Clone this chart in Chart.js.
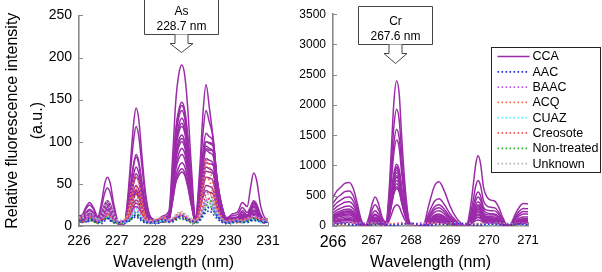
<!DOCTYPE html>
<html>
<head>
<meta charset="utf-8">
<script src="https://cdn.jsdelivr.net/npm/chart.js@4.4.1/dist/chart.umd.min.js"></script>
<style>
  html, body { margin: 0; padding: 0; background: #fff; }
  #wrap { position: relative; width: 602px; height: 272px; overflow: hidden; }
  #asChart { position: absolute; left: 0; top: 0; }
  #crChart { position: absolute; left: 280px; top: 0; }
</style>
</head>
<body>
<div id="wrap">
  <canvas id="asChart" width="290" height="272" style="width:290px;height:272px"></canvas>
  <canvas id="crChart" width="322" height="272" style="width:322px;height:272px"></canvas>
</div>
<script>
// ---- data ----
const classNames = ['AAC', 'BAAC', 'ACQ', 'CUAZ', 'Creosote', 'Non-treated', 'Unknown'];

// As panel: wavelength (nm) and intensities (a.u.)
const wlAs = [226.00, 226.08, 226.18, 226.28, 226.38, 226.50, 226.60, 226.68, 226.75, 226.83,
              226.92, 227.05, 227.20, 227.30, 227.38, 227.45, 227.51, 227.58, 227.66, 227.75,
              227.88, 228.05, 228.22, 228.38, 228.48, 228.56, 228.64, 228.72, 228.80, 228.88,
              228.97, 229.08, 229.20, 229.28, 229.36, 229.45, 229.55, 229.65, 229.76, 229.90,
              230.05, 230.20, 230.32, 230.45, 230.54, 230.62, 230.70, 230.80, 230.90, 231.00];

const asCCA = [
  [12,13,22,28,22,11,29,50,58,50,26,5,5,39,86,124,140,127,86,43,12,7,12,18,85,148,180,191,178,138,72,11,72,134,168,140,102,45,24,9,14,17,28,23,46,63,54,25,11,8],
  [12,12,20,25,20,10,23,39,45,39,21,5,5,33,73,104,118,107,73,37,11,7,10,14,67,115,138,147,137,106,56,9,60,110,137,123,104,54,27,10,12,14,22,16,23,30,26,14,8,8],
  [11,10,16,20,16,8,16,26,30,26,14,4,4,24,53,75,85,77,53,27,8,5,8,13,64,111,134,143,133,103,54,8,48,88,110,106,100,57,28,9,10,11,18,13,21,28,24,12,6,7],
  [10,9,15,18,15,7,15,24,28,24,14,4,4,24,51,73,82,74,51,26,8,5,8,13,62,107,129,137,127,99,52,8,44,80,100,98,94,55,27,9,9,10,16,12,19,26,23,12,6,7],
  [10,8,12,15,12,7,14,22,25,22,12,4,4,21,44,62,70,63,44,23,7,5,7,12,58,100,120,128,119,92,49,8,42,76,95,92,88,51,25,8,8,9,14,11,18,24,21,11,6,7],
  [10,7,11,13,11,6,12,19,22,19,11,4,4,19,39,55,62,56,39,20,7,5,7,11,55,96,115,122,113,88,47,8,40,72,90,87,83,48,24,8,8,9,13,10,17,22,19,10,6,7],
  [9,6,9,11,9,5,11,17,20,17,10,3,3,14,30,43,48,43,30,16,5,4,6,10,53,91,111,118,110,85,44,7,35,64,80,78,74,43,21,7,7,8,12,9,14,19,17,9,5,6],
  [9,6,8,10,8,5,10,16,18,16,9,3,3,13,27,38,43,39,27,14,5,4,6,10,48,84,102,108,100,78,41,6,31,56,70,68,64,37,19,6,6,7,11,8,13,17,15,8,4,6],
  [9,5,8,9,8,5,8,13,15,13,8,3,3,12,23,33,37,34,23,13,5,4,5,8,42,72,86,92,86,66,35,6,26,46,58,57,53,31,16,6,6,7,10,8,11,15,13,7,4,6],
  [8,5,7,8,7,4,8,12,13,12,7,3,3,10,20,28,31,28,20,11,4,4,5,8,35,59,70,75,70,54,29,5,22,38,48,47,43,25,14,5,5,6,9,7,11,14,12,7,4,6],
  [8,4,6,7,6,4,7,10,11,10,6,3,3,9,17,24,27,25,17,10,4,4,5,7,30,51,60,64,60,46,25,5,20,34,42,40,38,22,12,5,5,6,8,7,10,13,12,7,4,6],
  [9,7,11,13,11,6,12,20,23,20,11,3,3,17,36,51,58,53,36,18,6,4,6,9,47,81,98,104,97,75,39,6,40,74,92,90,90,53,25,7,6,7,11,9,17,23,20,10,5,6],
  [9,5,8,9,8,5,8,13,15,13,8,3,3,12,25,35,39,35,25,13,5,4,5,8,39,67,80,85,79,61,33,6,43,80,100,99,97,58,27,8,6,7,10,8,14,18,16,8,5,6],
  [9,7,12,15,12,6,13,22,25,22,12,3,3,13,26,36,41,37,26,14,5,4,6,8,32,54,64,68,63,49,27,5,33,60,75,74,72,42,21,7,7,8,13,11,20,27,23,11,5,6],
  [8,5,7,8,7,4,7,11,12,11,7,3,3,8,15,21,23,21,15,9,4,4,5,9,45,78,94,100,93,72,38,6,29,52,65,64,62,36,18,6,5,6,9,7,10,13,12,7,4,6]
];

// spectra of the other wood classes, each list in classNames order
const asOthers = [
  [6,8,5,9,7,4,6,8,10,7,5,4,6,5,9,12,14,11,8,5,4,6,8,5,7,9,11,12,10,8,6,5,8,14,20,22,18,12,7,4,5,6,4,6,7,9,8,6,5,6],
  [8,7,9,12,10,6,9,14,18,15,8,5,6,9,14,20,22,18,12,7,5,7,9,6,8,11,13,14,12,9,7,6,10,20,30,33,26,16,9,5,6,7,6,8,10,12,11,8,6,7],
  [10,9,8,11,9,6,8,12,15,12,7,5,7,18,40,55,60,52,32,14,6,8,10,7,8,12,15,16,13,10,8,7,25,55,78,70,48,25,12,6,7,8,7,9,10,11,10,8,7,8],
  [7,9,6,8,10,7,5,8,12,9,6,5,4,7,12,18,21,17,11,6,5,4,7,6,9,12,13,15,12,9,7,5,9,18,28,32,25,15,8,5,4,6,5,7,9,8,7,5,6,7],
  [9,6,8,10,7,5,7,10,13,10,6,4,5,12,25,35,38,32,20,9,5,6,8,6,7,10,12,13,11,8,6,5,12,25,38,40,30,17,9,5,6,5,6,8,9,10,9,7,6,7],
  [5,7,6,8,6,4,6,9,11,8,5,4,5,6,10,14,16,13,9,5,4,5,6,5,7,9,10,11,9,7,5,4,8,16,25,30,24,14,7,4,5,6,5,6,8,9,8,6,5,6],
  [10,12,14,16,13,8,14,24,30,25,14,7,8,14,26,34,36,30,20,10,7,8,10,8,10,14,16,17,15,12,9,7,12,22,34,38,30,18,10,6,7,8,7,9,11,12,11,9,8,9]
];
const asOthers2 = [
  [4,6,9,5,8,6,3,6,9,6,4,5,3,6,8,10,11,9,6,4,5,3,6,7,5,8,10,9,8,6,5,4,7,12,16,18,14,9,5,3,4,5,6,4,6,7,6,5,4,5],
  [6,9,7,10,8,5,7,11,14,12,7,4,5,8,12,16,18,15,10,6,4,6,8,5,7,9,11,12,10,8,6,5,8,16,24,27,21,13,7,4,5,6,5,7,8,10,9,7,5,6],
  [8,7,10,9,7,5,7,10,12,10,6,4,6,14,30,42,46,40,25,11,5,7,8,6,7,10,12,13,11,8,7,6,18,40,58,54,38,20,10,5,6,7,6,8,9,10,9,7,6,7],
  [5,7,8,6,8,6,4,7,10,8,5,4,3,6,10,15,17,14,9,5,4,3,6,5,8,10,11,12,10,8,6,4,8,15,22,26,20,12,7,4,3,5,4,6,8,7,6,4,5,6],
  [7,5,7,8,6,4,6,8,10,8,5,3,4,9,18,26,28,24,15,7,4,5,6,5,6,8,10,11,9,7,5,4,10,20,30,32,24,14,7,4,5,4,5,7,8,8,7,6,5,6],
  [4,5,5,6,5,3,5,7,9,7,4,3,4,5,8,11,13,11,7,4,3,4,5,4,6,7,8,9,7,6,4,3,6,12,20,24,19,11,6,3,4,5,4,5,6,7,6,5,4,5],
  [8,10,11,13,10,6,11,19,24,20,11,6,6,11,20,27,29,24,16,8,6,6,8,6,8,11,13,14,12,10,7,6,10,18,27,30,24,14,8,5,6,6,6,7,9,10,9,7,6,7]
];

// Cr panel
const wlCr = [266.00, 266.10, 266.20, 266.30, 266.42, 266.52, 266.62, 266.72, 266.82, 266.92,
              267.00, 267.08, 267.16, 267.26, 267.36, 267.44, 267.50, 267.56, 267.63, 267.70,
              267.76, 267.84, 267.94, 268.05, 268.20, 268.32, 268.45, 268.60, 268.72, 268.85,
              269.00, 269.15, 269.30, 269.42, 269.52, 269.60, 269.66, 269.72, 269.78, 269.86,
              269.95, 270.05, 270.15, 270.25, 270.35, 270.48, 270.58, 270.68, 270.78, 270.88, 271.00];

const crCCA = [
  [470,580,640,705,720,620,380,110,0,144,360,480,384,144,72,600,1320,2040,2400,2160,1488,720,120,0,0,15,329,657,730,584,329,146,37,0,290,696,1021,1160,1044,638,478,427,410,308,144,0,56,204,315,370,363],
  [312,384,427,470,480,413,254,72,0,105,263,350,280,105,58,483,1062,1641,1930,1737,1197,579,97,0,0,9,203,405,450,360,203,90,23,0,188,450,660,750,675,413,330,308,300,225,105,0,44,160,247,290,284],
  [377,464,516,568,580,499,307,87,0,75,188,250,200,75,48,400,880,1360,1600,1440,992,480,80,0,0,7,158,315,350,280,158,70,18,0,140,336,493,560,504,308,262,253,250,188,88,0,36,132,204,240,235],
  [260,320,356,392,400,344,212,60,0,60,150,200,160,60,43,355,781,1207,1420,1278,880,426,71,0,0,6,135,270,300,240,135,60,15,0,120,288,422,480,432,264,216,204,200,150,70,0,30,110,170,200,196],
  [215,264,294,323,330,284,175,50,0,54,135,180,144,54,31,255,561,867,1020,918,632,306,51,0,0,5,113,225,250,200,113,50,13,0,100,240,352,400,360,220,188,182,180,135,63,0,23,83,128,150,147],
  [182,224,249,274,280,241,148,42,0,45,113,150,120,45,29,245,539,833,980,882,608,294,49,0,0,4,90,180,200,160,90,40,10,0,88,210,308,350,315,193,160,153,150,113,53,0,18,66,102,120,118],
  [163,200,223,245,250,215,133,38,0,39,98,130,104,39,28,230,506,782,920,828,570,276,46,0,0,4,81,162,180,144,81,36,9,0,75,180,264,300,270,165,132,123,120,90,42,0,15,55,85,100,98],
  [143,176,196,216,220,189,117,33,0,36,90,120,96,36,26,220,484,748,880,792,546,264,44,0,0,3,68,135,150,120,68,30,8,0,70,168,246,280,252,154,122,113,110,83,39,0,14,50,77,90,88],
  [130,160,178,196,200,172,106,30,0,30,75,100,80,30,24,200,440,680,800,720,496,240,40,0,0,3,59,117,130,104,59,26,7,0,63,150,220,250,225,138,110,103,100,75,35,0,12,44,68,80,78],
  [117,144,160,176,180,155,95,27,0,27,68,90,72,27,23,188,413,638,750,675,465,225,38,0,0,2,54,108,120,96,54,24,6,0,50,120,176,200,180,110,94,91,90,68,32,0,11,39,60,70,69],
  [98,120,134,147,150,129,80,23,0,24,60,80,64,24,21,175,385,595,700,630,434,210,35,0,0,2,45,90,100,80,45,20,5,0,45,108,158,180,162,99,84,81,80,60,28,0,9,33,51,60,59],
  [78,96,107,118,120,103,64,18,0,21,53,70,56,21,20,163,358,553,650,585,403,195,33,0,0,2,41,81,90,72,41,18,5,0,38,90,132,150,135,83,72,71,70,53,25,0,8,28,43,50,49],
  [59,72,80,88,90,77,48,14,0,15,38,50,40,15,11,88,193,298,350,315,217,105,18,0,0,1,27,54,60,48,27,12,3,0,25,60,88,100,90,55,50,50,50,38,18,0,6,22,34,40,39],
  [72,88,98,108,110,95,58,17,0,27,68,90,72,27,29,240,528,816,960,864,595,288,48,0,0,2,50,99,110,88,50,22,6,0,58,138,202,230,207,127,106,102,100,75,35,0,12,44,68,80,78],
  [156,192,214,235,240,206,127,36,0,33,83,110,88,33,25,208,457,706,830,747,515,249,42,0,0,3,72,144,160,128,72,32,8,0,83,198,290,330,297,182,144,134,130,98,46,0,17,61,94,110,108],
  [39,48,53,59,60,52,32,9,0,12,30,40,32,12,19,155,341,527,620,558,384,186,31,0,0,1,32,63,70,56,32,14,4,0,35,84,123,140,126,77,64,61,60,45,21,0,7,25,38,45,44]
];

const wlCrOther = [266.00, 266.25, 266.50, 266.75, 267.00, 267.25, 267.50, 267.75, 268.00, 268.25, 268.50,
                   268.75, 269.00, 269.25, 269.50, 269.75, 270.00, 270.25, 270.50, 270.75, 271.00];
const crOthers = [
  [25,40,15,30,20,35,10,25,45,20,15,30,25,40,20,10,30,25,15,35,20],
  [40,55,30,45,60,35,20,40,30,50,25,35,45,30,55,20,40,30,45,25,35],
  [30,20,45,25,35,15,40,30,20,35,45,20,30,25,15,40,25,35,20,30,40],
  [20,35,25,50,30,20,35,15,25,40,30,20,35,45,25,30,15,25,40,20,30],
  [35,25,40,20,45,30,25,50,35,20,30,40,20,35,30,25,45,20,30,40,25],
  [15,30,20,35,25,40,15,30,20,25,35,15,25,20,35,30,20,40,25,15,30],
  [45,35,55,40,30,50,35,45,25,40,50,35,40,55,30,45,35,50,30,45,35]
];

// ---- styles ----
const ccaColor = '#9b2ba9';
const classColors = ['#2a2ad4', '#c05cf0', '#f2704e', '#6aeef0', '#f03a3a', '#2fb52f', '#b4b4b4'];
const FONT = "'Liberation Sans', Arial, Helvetica, sans-serif";
Chart.defaults.font.family = FONT;
Chart.defaults.color = '#000';

const pts = (xs, ys) => ys.map((y, i) => ({ x: xs[i], y: y }));

function buildDatasets(wl, cca, wlO, otherSets) {
  const ds = cca.map(ys => ({
    label: 'CCA', data: pts(wl, ys), borderColor: ccaColor, borderWidth: 1.5, order: 2
  }));
  otherSets.forEach(set => set.forEach((ys, i) => ds.push({
    label: classNames[i], data: pts(wlO, ys), borderColor: classColors[i],
    borderWidth: 1.7, borderDash: [1.6, 2.2], order: 1
  })));
  return ds;
}

// inward tick marks on both axes
const innerTicks = {
  id: 'innerTicks',
  afterDatasetsDraw(chart) {
    const { ctx, chartArea: a, scales: { x, y } } = chart;
    ctx.save();
    ctx.strokeStyle = '#8a8a8a';
    ctx.lineWidth = 1;
    y.ticks.forEach(t => {
      const py = Math.round(y.getPixelForValue(t.value)) + 0.5;
      ctx.beginPath(); ctx.moveTo(a.left, py); ctx.lineTo(a.left + 4, py); ctx.stroke();
    });
    x.ticks.forEach(t => {
      const px = Math.round(x.getPixelForValue(t.value)) + 0.5;
      ctx.beginPath(); ctx.moveTo(px, a.bottom); ctx.lineTo(px, a.bottom - 4); ctx.stroke();
    });
    ctx.restore();
  }
};

// boxed label with hollow arrow pointing at the analysis line
const callout = {
  id: 'callout',
  afterDraw(chart, args, opts) {
    if (!opts.lines) return;
    const { ctx } = chart;
    const cx = Math.round(chart.scales.x.getPixelForValue(opts.at)) + 0.5;
    const w = 74, h = 38, b = opts.bottom + 0.5;
    ctx.save();
    ctx.fillStyle = '#fff';
    ctx.strokeStyle = '#444';
    ctx.lineWidth = 1;
    ctx.beginPath();
    ctx.rect(cx - w / 2, b - h, w, h);
    ctx.fill(); ctx.stroke();
    ctx.beginPath();
    ctx.moveTo(cx - 6.5, b);
    ctx.lineTo(cx - 6.5, b + 9);
    ctx.lineTo(cx - 11.5, b + 9);
    ctx.lineTo(cx, b + opts.tip);
    ctx.lineTo(cx + 11.5, b + 9);
    ctx.lineTo(cx + 6.5, b + 9);
    ctx.lineTo(cx + 6.5, b);
    ctx.fill(); ctx.stroke();
    ctx.fillStyle = '#000';
    ctx.font = '12px ' + FONT;
    ctx.textAlign = 'center';
    ctx.textBaseline = 'middle';
    ctx.fillText(opts.lines[0], cx, b - 23);
    ctx.fillText(opts.lines[1], cx, b - 8);
    ctx.restore();
  }
};

// framed legend drawn over the plot
const boxLegend = {
  id: 'boxLegend',
  afterDraw(chart, args, opts) {
    if (!opts.show) return;
    const { ctx } = chart;
    const x0 = opts.x + 0.5, y0 = opts.y + 0.5;
    ctx.save();
    ctx.fillStyle = '#fff';
    ctx.strokeStyle = '#222';
    ctx.lineWidth = 1;
    ctx.fillRect(x0, y0, opts.w, opts.h);
    ctx.strokeRect(x0, y0, opts.w, opts.h);
    const names = ['CCA'].concat(classNames);
    const colors = [ccaColor].concat(classColors);
    ctx.font = '12.5px ' + FONT;
    ctx.textBaseline = 'middle';
    names.forEach((n, i) => {
      const yy = y0 + 9 + i * 15.3;
      ctx.strokeStyle = colors[i];
      ctx.lineWidth = i === 0 ? 1.3 : 1.7;
      ctx.setLineDash(i === 0 ? [] : [1.6, 2.4]);
      ctx.beginPath(); ctx.moveTo(x0 + 6, yy); ctx.lineTo(x0 + 38, yy); ctx.stroke();
      ctx.fillStyle = '#000';
      ctx.fillText(n, x0 + 41, yy + 0.5);
    });
    ctx.restore();
  }
};

function scalesFor(xMin, xMax, yMax, yStep, xFont, yFont, yTitle, yWidth) {
  return {
    x: {
      type: 'linear', min: xMin, max: xMax,
      afterFit: s => { s.height = 46; },
      ticks: { stepSize: 1, padding: 7, font: xFont, color: '#000', maxRotation: 0, callback: v => String(v) },
      grid: { drawOnChartArea: false, drawTicks: false },
      border: { color: '#8a8a8a', width: 1.6 },
      title: { display: true, text: 'Wavelength (nm)', font: { size: 16 }, padding: { top: 0, bottom: 0 }, color: '#000' }
    },
    y: {
      min: 0, max: yMax,
      afterFit: s => { s.width = yWidth; },
      ticks: { stepSize: yStep, padding: 7, font: yFont, color: '#000', callback: v => String(v) },
      grid: { drawOnChartArea: false, drawTicks: false },
      border: { color: '#8a8a8a', width: 1.6 },
      title: {
        display: !!yTitle, text: yTitle || '', font: { size: 16, lineHeight: 1.55 },
        padding: { top: 0, bottom: 0 }, color: '#000'
      }
    }
  };
}

const common = {
  responsive: false,
  animation: false,
  devicePixelRatio: 1,
  elements: { point: { radius: 0 }, line: { cubicInterpolationMode: 'monotone' } },
  events: []
};

new Chart(document.getElementById('asChart'), {
  type: 'line',
  data: { datasets: buildDatasets(wlAs, asCCA, wlAs, [asOthers, asOthers2]) },
  options: Object.assign({}, common, {
    layout: { padding: { left: 0, right: 22, top: 10, bottom: 0 } },
    scales: scalesFor(226, 231, 250, 50, { size: 14 }, { size: 14 },
      ['Relative fluorescence intensity', '(a.u.)'], 79),
    plugins: {
      legend: { display: false },
      tooltip: { enabled: false },
      callout: { lines: ['As', '228.7 nm'], at: 228.7, bottom: 34, tip: 18 },
      boxLegend: { show: false }
    }
  }),
  plugins: [innerTicks, callout, boxLegend]
});

new Chart(document.getElementById('crChart'), {
  type: 'line',
  data: { datasets: buildDatasets(wlCr, crCCA, wlCrOther, [crOthers]) },
  options: Object.assign({}, common, {
    layout: { padding: { left: 0, right: 74, top: 9, bottom: 0 } },
    scales: scalesFor(266, 271, 3500, 500,
      ctx => ({ size: ctx.tick && ctx.tick.value === 266 ? 16 : 13 }), { size: 12 }, null, 53),
    plugins: {
      legend: { display: false },
      tooltip: { enabled: false },
      callout: { lines: ['Cr', '267.6 nm'], at: 267.6, bottom: 44, tip: 19 },
      boxLegend: { show: true, x: 211, y: 47, w: 109, h: 125 }
    }
  }),
  plugins: [innerTicks, callout, boxLegend]
});
</script>
</body>
</html>
